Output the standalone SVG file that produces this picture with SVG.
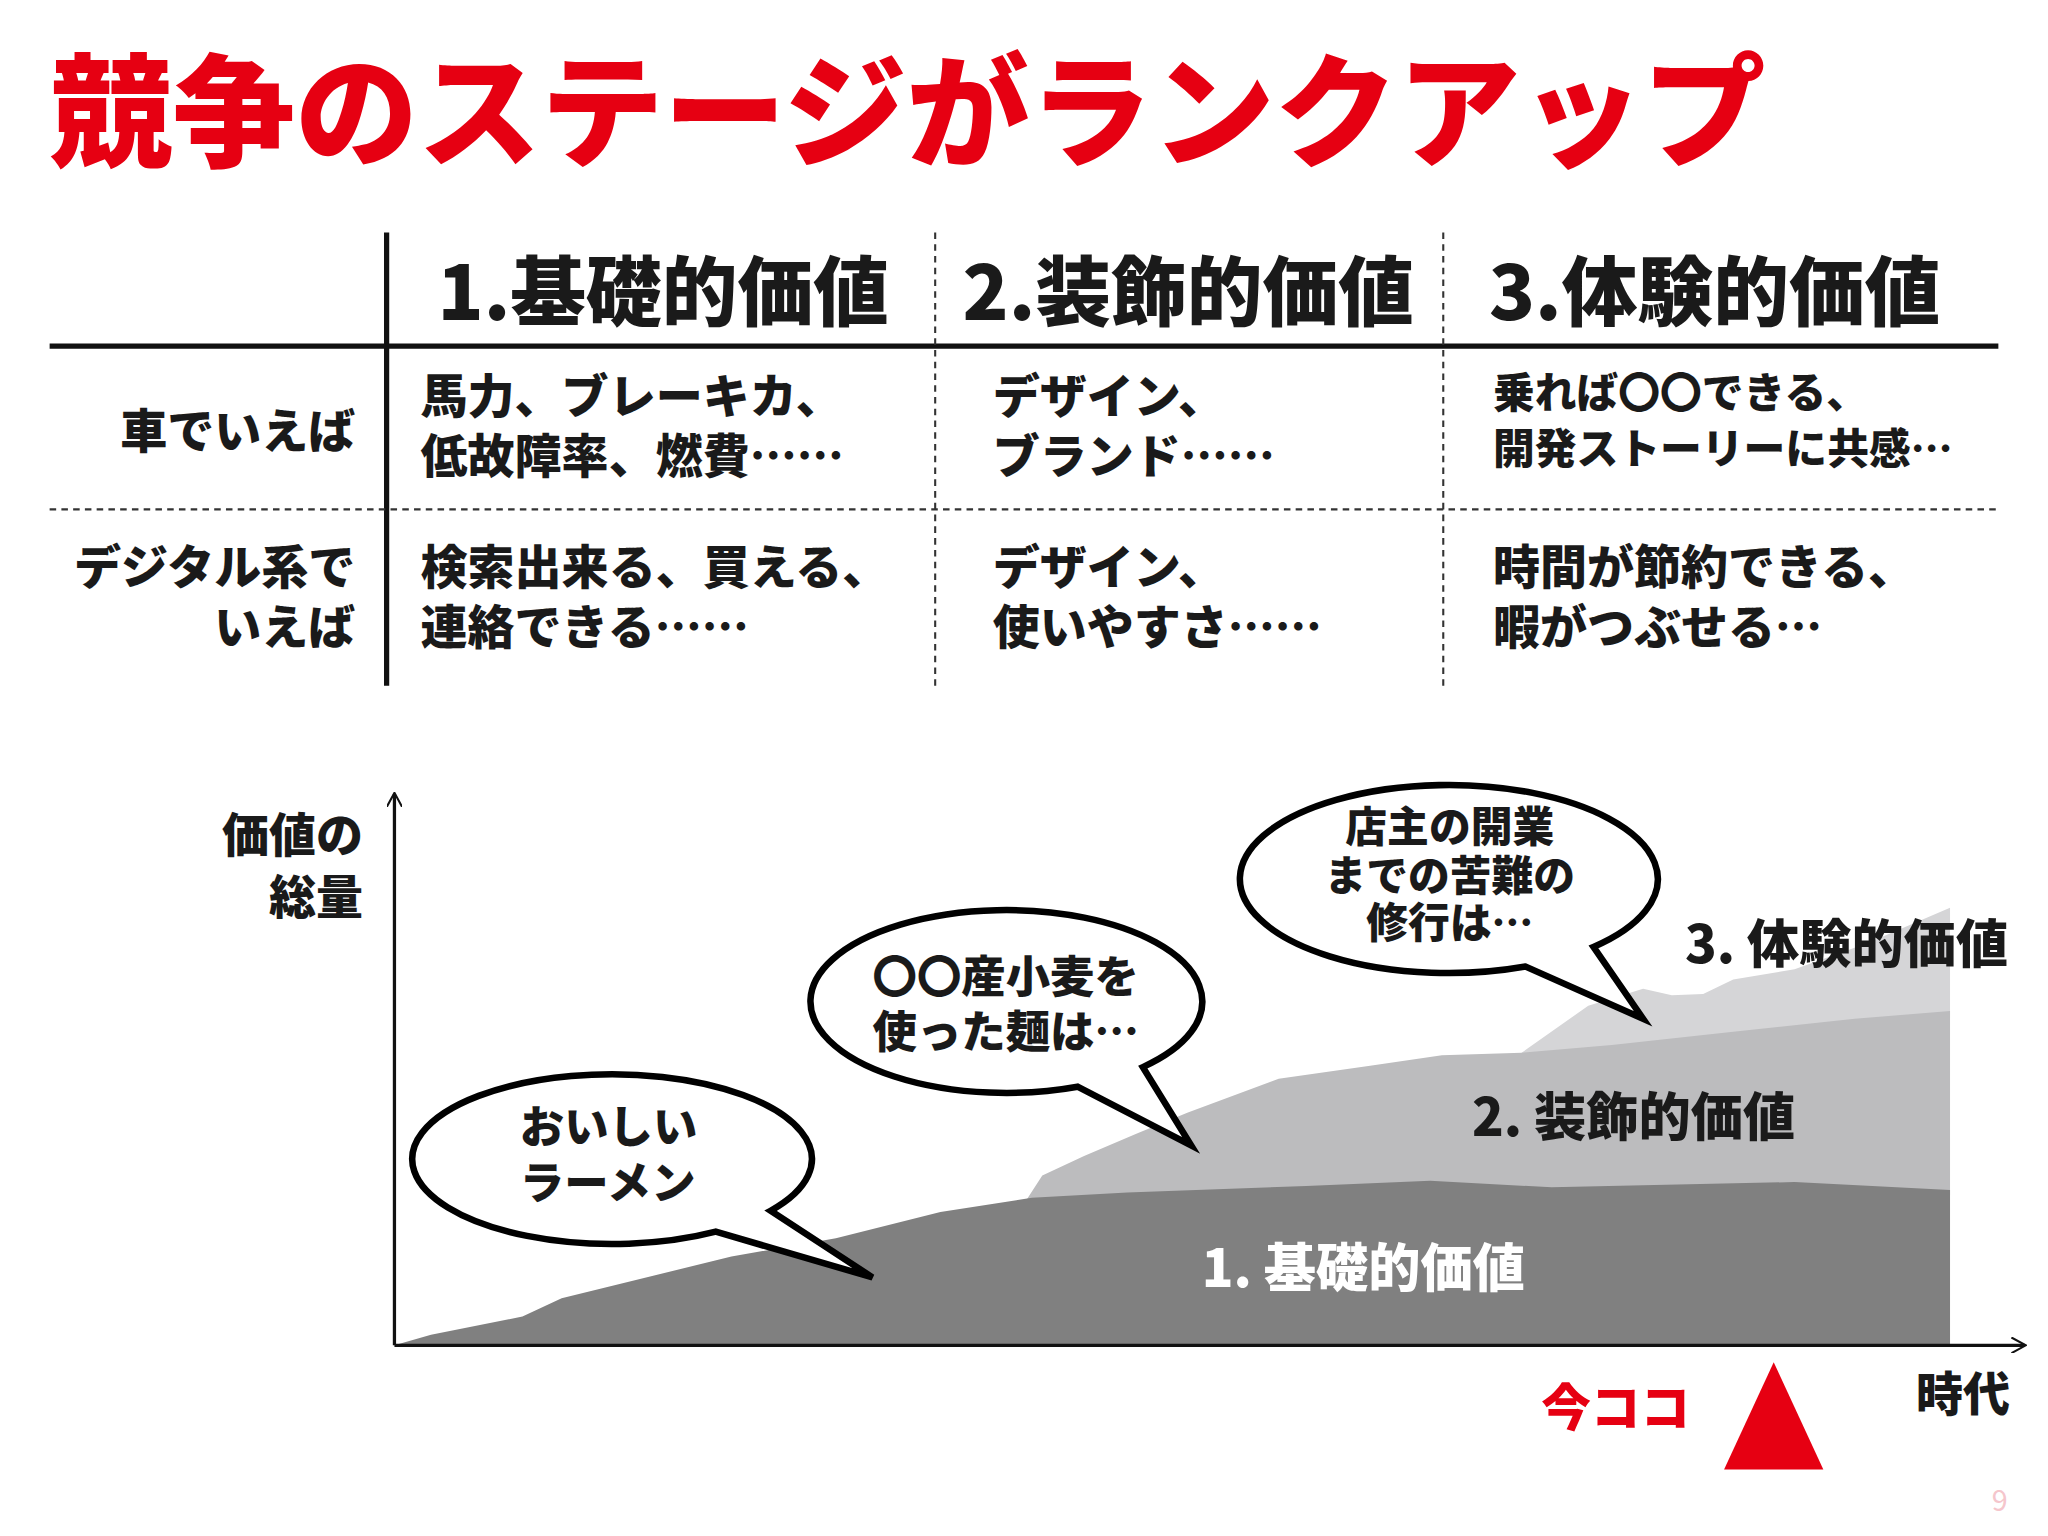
<svg xmlns="http://www.w3.org/2000/svg" width="2048" height="1536" viewBox="0 0 2048 1536">
<style>
text{font-family:"Noto Sans CJK JP","Noto Sans",sans-serif;font-weight:900;fill:#1a1a1a}
.h{font-size:58px}.c{font-size:36px}.c3{font-size:32px}.b{font-size:34px}.l{font-size:40px}
.sol{stroke:#111;stroke-width:4;fill:none}.dash{stroke:#333;stroke-width:1.6;stroke-dasharray:5 4;fill:none}
.bub{fill:#fff;stroke:#000;stroke-width:5;stroke-linejoin:miter}
</style>
<defs><marker id="ar" viewBox="0 0 12 12" refX="10" refY="6" markerWidth="12" markerHeight="12" markerUnits="userSpaceOnUse" orient="auto"><path d="M0,0 L11,6 L0,12" fill="none" stroke="#111" stroke-width="1.6"/></marker></defs>
<rect width="2048" height="1536" fill="#fff"/>
<g transform="scale(1.30612)">
<text id="title" x="38" y="120" style="font-size:94px;fill:#e60012">競争のステージがランクアップ</text>
<g id="table">
<line class="sol" x1="296" y1="178" x2="296" y2="525"/>
<line class="sol" x1="38" y1="265" x2="1530" y2="265"/>
<line class="dash" x1="716" y1="178" x2="716" y2="525"/>
<line class="dash" x1="1105" y1="178" x2="1105" y2="525"/>
<line class="dash" x1="38" y1="390" x2="1530" y2="390"/>
<text class="h" x="335" y="245">1.基礎的価値</text>
<text class="h" x="737" y="245">2.装飾的価値</text>
<text class="h" x="1140" y="245">3.体験的価値</text>
<text class="c" x="272" y="343" text-anchor="end">車でいえば</text>
<text class="c" x="272" y="447" text-anchor="end">デジタル系で</text>
<text class="c" x="272" y="493" text-anchor="end">いえば</text>
<text class="c" x="322" y="316">馬力、ブレーキカ、</text>
<text class="c" x="322" y="362">低故障率、燃費……</text>
<text class="c" x="760" y="316">デザイン、</text>
<text class="c" x="760" y="362">ブランド……</text>
<text class="c3" x="1143" y="312">乗れば〇〇できる、</text>
<text class="c3" x="1143" y="355">開発ストーリーに共感…</text>
<text class="c" x="322" y="447">検索出来る、買える、</text>
<text class="c" x="322" y="493">連絡できる……</text>
<text class="c" x="760" y="447">デザイン、</text>
<text class="c" x="760" y="493">使いやすさ……</text>
<text class="c" x="1143" y="447">時間が節約できる、</text>
<text class="c" x="1143" y="493">暇がつぶせる…</text>
</g>
<g id="chart">
<path fill="#d5d5d7" d="M1165,806 L1216,770 L1258,757 L1280,762 L1304,761 L1327,750 L1374,742 L1430,722 L1493,695 L1493,780 L1165,810Z"/>
<path fill="#bcbcbe" d="M785,920 L798,900 L830,885 L870,868 L909,852 L979,826 L1049,816 L1104,808 L1165,806 L1234,800 L1327,790 L1420,780 L1493,774 L1493,915 L785,925Z"/>
<path fill="#808080" d="M302,1030 L330,1022 L400,1008 L430,994 L560,962 L640,948 L720,928 L790,917 L863,913 L1000,908 L1095,904 L1188,909 L1374,905 L1493,911 L1493,1030Z"/>
<line class="sol" x1="302" y1="1030" x2="302" y2="608" marker-end="url(#ar)" style="stroke-width:2.5"/>
<line class="sol" x1="302" y1="1030" x2="1550" y2="1030" marker-end="url(#ar)" style="stroke-width:2.5"/>
<text class="l" x="1290" y="737">3. 体験的価値</text>
<text class="l" x="1127" y="870">2. 装飾的価値</text>
<text class="l" x="920" y="985" style="fill:#fff">1. 基礎的価値</text>
<text class="c" x="278" y="652" text-anchor="end">価値の</text>
<text class="c" x="278" y="700" text-anchor="end">総量</text>
<text class="c" x="1467" y="1080">時代</text>
<text x="1180" y="1092" style="font-size:38px;fill:#e60012">今ココ</text>
<polygon points="1358,1043 1396,1125 1320,1125" fill="#e60012"/>
<text x="1525" y="1157" style="font-size:22px;font-weight:400;fill:#f5c6cc">9</text>
</g>
<g id="bubble1"><path class="bub" d="M548,943 A153,65 0 1,1 590,927 L668,978 Z"/>
<text class="b" x="398" y="875">おいしい</text><text class="b" x="398" y="918">ラーメン</text></g>
<g id="bubble2"><path class="bub" d="M825,832 A150,70 0 1,1 875,817 L912,877 Z"/>
<text class="b" x="668" y="760">〇〇産小麦を</text><text class="b" x="668" y="802">使った麺は…</text></g>
<g id="bubble3"><path class="bub" d="M1168,740 A160,72 0 1,1 1220,725 L1258,780 Z"/>
<text class="c3" x="1110" y="645" text-anchor="middle">店主の開業</text><text class="c3" x="1110" y="682" text-anchor="middle">までの苦難の</text><text class="c3" x="1110" y="718" text-anchor="middle">修行は…</text></g>
</g>
</svg>
